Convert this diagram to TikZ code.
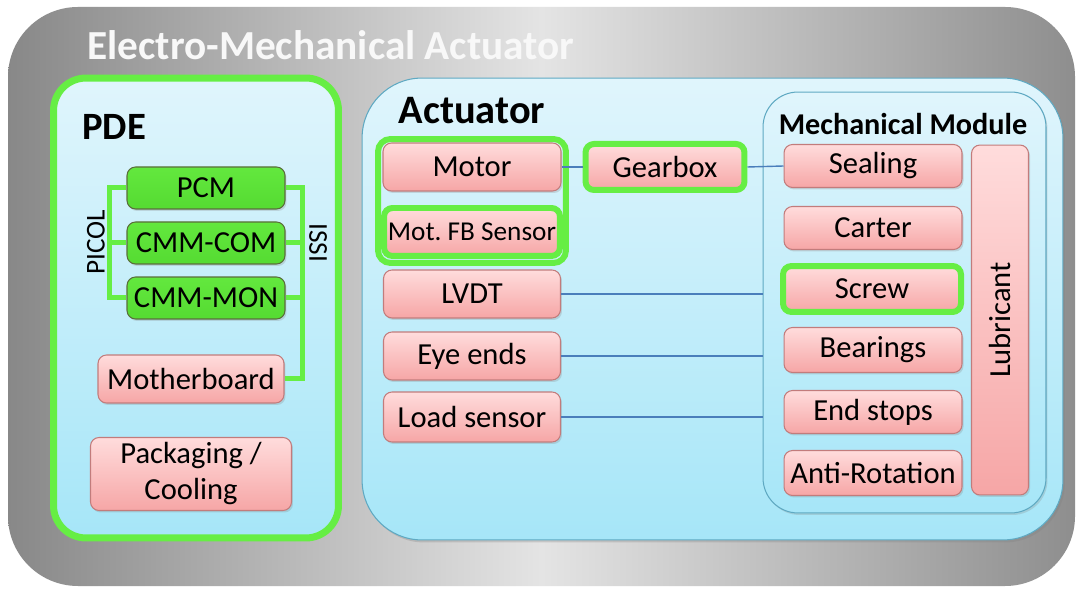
\documentclass[tikz,border=0pt]{standalone}
\usepackage{fontspec}
\setmainfont{Carlito}
\usetikzlibrary{shadows}
\definecolor{gbright}{HTML}{66EE44}
\definecolor{gnode}{HTML}{63E83E}
\definecolor{gnodeB}{HTML}{55DB32}
\definecolor{gborder}{HTML}{5A6E3A}
\definecolor{pinkT}{HTML}{FFDCDC}
\definecolor{pinkB}{HTML}{F6A6A6}
\definecolor{pinkborder}{HTML}{C27C7C}
\definecolor{blueT}{HTML}{E0F5FC}
\definecolor{blueB}{HTML}{A6E6F8}
\definecolor{blueborder}{HTML}{5FA9C2}
\definecolor{conncol}{HTML}{4A7EBB}
\definecolor{grayL}{HTML}{888888}
\definecolor{grayM}{HTML}{E4E4E4}
\definecolor{grayR}{HTML}{8E8E8E}
\definecolor{titlecol}{HTML}{F8F8F8}
\tikzset{
  itemfont/.style={font=\fontsize{17.4}{20.5}\selectfont},
  pinkbox/.style={draw=pinkborder, line width=0.6pt, rounded corners=0.17cm,
    top color=pinkT, bottom color=pinkB, itemfont, inner sep=0pt, align=center,
    drop shadow={shadow xshift=0.03cm, shadow yshift=-0.04cm, opacity=0.25}},
  greenbox/.style={draw=gborder, line width=0.6pt, rounded corners=0.17cm,
    top color=gnode, bottom color=gnodeB, itemfont, inner sep=0pt,
    drop shadow={shadow xshift=0.03cm, shadow yshift=-0.04cm, opacity=0.25}},
  hilite/.style={draw=gbright, line width=0.12cm},
  frameblue/.style={draw=blueborder, line width=0.6pt, top color=blueT, bottom color=blueB},
  conn/.style={draw=conncol, line width=0.8pt},
  bus/.style={draw=gbright, line width=0.1cm},
  heading/.style={font=\bfseries\fontsize{22}{26}\selectfont, inner sep=0pt},
}
\begin{document}
\begin{tikzpicture}[x=0.02cm, y=-0.02cm]
\useasboundingbox (0,0) rectangle (1077,590);
\fill[white] (0,0) rectangle (1077,590);
% outer gray panel
\shade[rounded corners=1.4cm, left color=grayL, right color=grayR, middle color=grayM] (8,7) rectangle (1075,586);
\node[anchor=west, text=titlecol, font=\bfseries\fontsize{23.5}{27}\selectfont, inner sep=0pt] (title) at (87,45) {Electro-Mechanical Actuator};

% PDE frame
\node[frameblue, draw=gbright, line width=0.14cm, rounded corners=0.65cm,
  minimum width=5.7cm, minimum height=9.2cm] (pde) at (196,308) {};
\node[heading, font=\bfseries\fontsize{22}{26}\selectfont] (pdelabel) at (114,127) {PDE};

\node[greenbox, minimum width=3.16cm, minimum height=0.84cm] (pcm) at (206,188) {PCM};
\node[greenbox, minimum width=3.16cm, minimum height=0.84cm] (com) at (206,243) {CMM-COM};
\node[greenbox, minimum width=3.16cm, minimum height=0.84cm] (mon) at (206,298) {CMM-MON};
\node[pinkbox, minimum width=3.72cm, minimum height=0.96cm] (mb) at (191,379) {Motherboard};
\node[pinkbox, minimum width=4.02cm, minimum height=1.46cm] (pack) at (191,474) {Packaging /\\Cooling};

\draw[bus] (pcm.west) -- ++(-17,0) |- (mon.west);
\draw[bus] (com.west) -- ++(-17,0);
\draw[bus] (pcm.east) -- ++(17,0) |- (mb.east);
\draw[bus] (com.east) -- ++(17,0);
\draw[bus] (mon.east) -- ++(17,0);
\node[rotate=90, font=\fontsize{15.5}{18}\selectfont, inner sep=0pt] (picol) at (96,242) {PICOL};
\node[rotate=-90, font=\fontsize{15.5}{18}\selectfont, inner sep=0pt] (issi) at (318,243) {ISSI};

% Actuator frame
\node[frameblue, rounded corners=1.2cm, minimum width=14.02cm, minimum height=9.24cm,
  drop shadow={shadow xshift=0.04cm, shadow yshift=-0.05cm, opacity=0.3}] (act) at (712.5,309) {};
\node[heading, font=\bfseries\fontsize{23}{26}\selectfont] (actlabel) at (472,111) {Actuator};

% Mechanical module frame
\node[frameblue, rounded corners=0.7cm, minimum width=5.66cm, minimum height=8.42cm,
  drop shadow={shadow xshift=0.03cm, shadow yshift=-0.04cm, opacity=0.25}] (mech) at (904.5,302.5) {};
\node[heading, font=\bfseries\fontsize{17.2}{20}\selectfont] (mechlabel) at (903,124) {Mechanical Module};

% actuator items
\node[pinkbox, minimum width=3.56cm, minimum height=0.96cm] (motor) at (472,167) {Motor};
\node[pinkbox, hilite, minimum width=3.52cm, minimum height=0.96cm,
  font=\fontsize{15.5}{17}\selectfont] (fb) at (472,232) {Mot.\ FB Sensor};
\node[draw=gbright, line width=0.12cm, rounded corners=0.25cm,
  minimum width=3.76cm, minimum height=2.48cm] (motgroup) at (472,201) {};
\node[pinkbox, hilite, minimum width=3.18cm, minimum height=0.92cm] (gear) at (665,167) {Gearbox};
\node[pinkbox, minimum width=3.54cm, minimum height=0.96cm] (lvdt) at (472,294) {LVDT};
\node[pinkbox, minimum width=3.54cm, minimum height=0.96cm] (eye) at (472,356) {Eye ends};
\node[pinkbox, minimum width=3.54cm, minimum height=1.0cm] (load) at (472,417) {Load sensor};

% mechanical module items
\node[pinkbox, minimum width=3.56cm, minimum height=0.86cm] (seal) at (873,166) {Sealing};
\node[pinkbox, minimum width=3.56cm, minimum height=0.86cm] (carter) at (873,228) {Carter};
\node[pinkbox, hilite, minimum width=3.56cm, minimum height=0.92cm] (screw) at (872,289) {Screw};
\node[pinkbox, minimum width=3.56cm, minimum height=0.9cm] (bear) at (873,350) {Bearings};
\node[pinkbox, minimum width=3.56cm, minimum height=0.86cm] (stops) at (873,412) {End stops};
\node[pinkbox, minimum width=3.56cm, minimum height=0.9cm] (anti) at (873,473) {Anti-Rotation};
\node[pinkbox, rotate=90, minimum width=7.0cm, minimum height=1.14cm] (lub) at (1000,320) {Lubricant};

% connectors
\draw[conn] (motor.east) -- (gear.west);
\draw[conn] (gear.east) -- (seal.west);
\draw[conn] (lvdt.east) -- (lvdt.east -| mech.west);
\draw[conn] (eye.east) -- (eye.east -| mech.west);
\draw[conn] (load.east) -- (load.east -| mech.west);
\end{tikzpicture}
\end{document}
